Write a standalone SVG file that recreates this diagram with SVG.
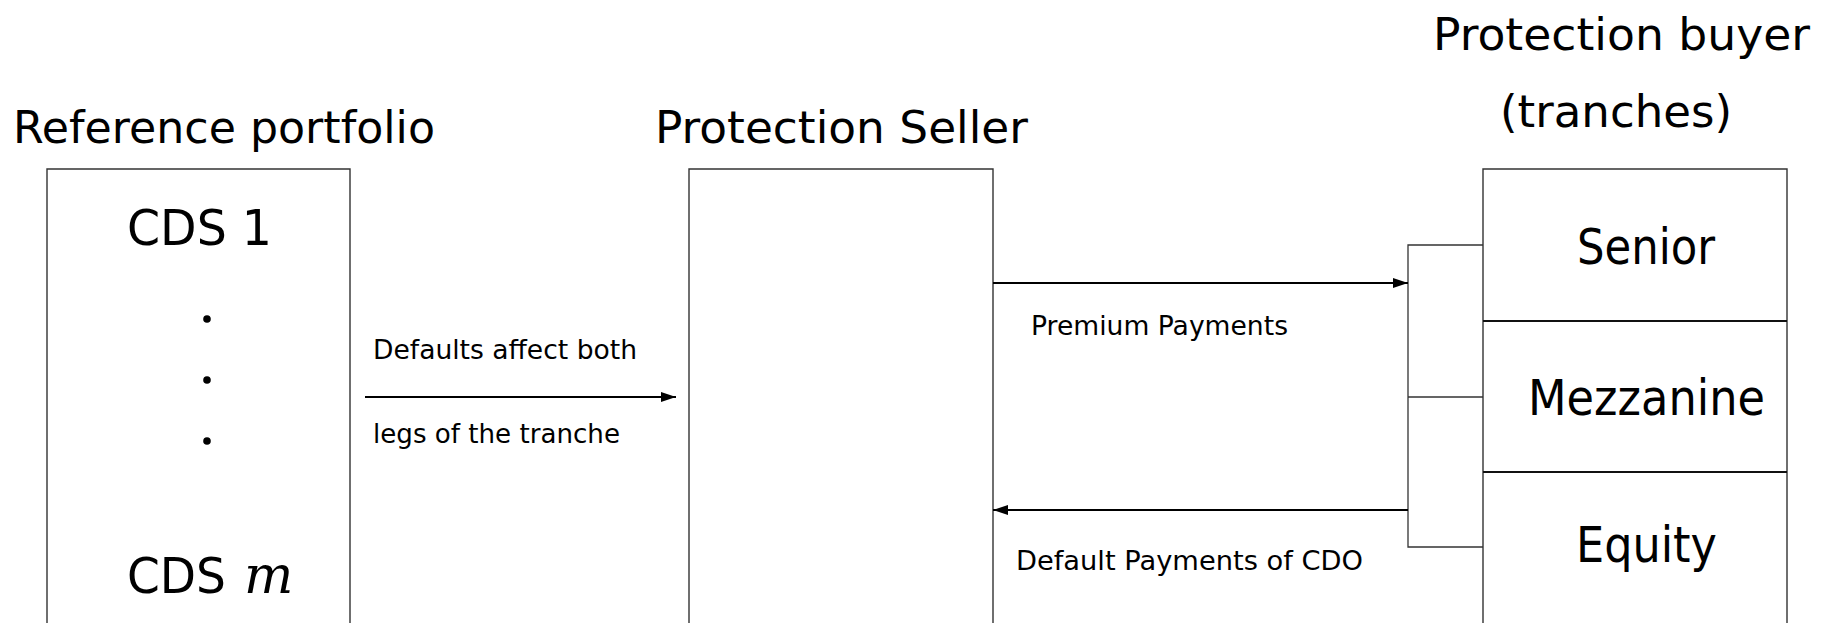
<svg xmlns="http://www.w3.org/2000/svg" width="1836" height="623" viewBox="0 0 1836 623">
  <style>
    .title { font-family: "DejaVu Sans", "Liberation Sans", sans-serif; font-size: 44px; fill: #000; }
    .big { font-family: "DejaVu Sans", "Liberation Sans", sans-serif; font-size: 49px; fill: #000; }
    .small { font-family: "DejaVu Sans", "Liberation Sans", sans-serif; font-size: 26px; fill: #000; }
    .math { font-family: "DejaVu Serif", "Liberation Serif", serif; font-style: italic; }
    .box { fill: none; stroke: #333; stroke-width: 1.4; }
    .divider { stroke: #111; stroke-width: 2.2; }
    .bracket { fill: none; stroke: #333; stroke-width: 1.3; }
    .flow { stroke: #000; stroke-width: 2; fill: none; marker-end: url(#tip); }
  </style>
  <defs>
    <marker id="tip" viewBox="0 0 15 11" refX="15" refY="5.5" markerWidth="15" markerHeight="11" markerUnits="userSpaceOnUse" orient="auto">
      <path d="M0,0.5 L15,5.5 L0,10.5 Z" fill="#000"/>
    </marker>
  </defs>
  <rect width="1836" height="623" fill="#fff"/>

  <!-- reference portfolio -->
  <g id="portfolio">
    <text class="title" x="13" y="143" textLength="422" lengthAdjust="spacingAndGlyphs">Reference portfolio</text>
    <path class="box" d="M47,630 V169 H350 V630"/>
    <text class="big" x="127" y="245" textLength="145" lengthAdjust="spacingAndGlyphs">CDS 1</text>
    <circle cx="207" cy="319" r="3.8" fill="#000"/>
    <circle cx="207" cy="380" r="3.8" fill="#000"/>
    <circle cx="207" cy="441" r="3.8" fill="#000"/>
    <text class="big" x="127" y="593"><tspan textLength="99" lengthAdjust="spacingAndGlyphs">CDS</tspan><tspan class="math" x="244" font-size="52">m</tspan></text>
  </g>

  <!-- protection seller -->
  <g id="seller">
    <text class="title" x="655" y="143" textLength="373" lengthAdjust="spacingAndGlyphs">Protection Seller</text>
    <path class="box" d="M689,630 V169 H993 V630"/>
  </g>

  <!-- protection buyer with tranches -->
  <g id="buyer">
    <text class="title" x="1433" y="50" textLength="377" lengthAdjust="spacingAndGlyphs">Protection buyer</text>
    <text class="title" x="1500" y="127" textLength="232" lengthAdjust="spacingAndGlyphs">(tranches)</text>
    <path class="box" d="M1483,630 V169 H1787 V630"/>
    <line class="divider" x1="1483" y1="321" x2="1787" y2="321"/>
    <line class="divider" x1="1483" y1="472" x2="1787" y2="472"/>
  </g>
  <g id="senior">
    <text class="big" x="1577" y="264" textLength="138" lengthAdjust="spacingAndGlyphs">Senior</text>
  </g>
  <g id="mezzanine">
    <text class="big" x="1528" y="415" textLength="237" lengthAdjust="spacingAndGlyphs">Mezzanine</text>
  </g>
  <g id="equity">
    <text class="big" x="1576" y="562" textLength="141" lengthAdjust="spacingAndGlyphs">Equity</text>
  </g>

  <!-- connectors -->
  <g id="connectors">
    <path class="bracket" d="M1483,245 H1408 V547 H1483 M1408,397 H1483"/>
    <line class="flow" x1="365" y1="397" x2="676" y2="397"/>
    <line class="flow" x1="993" y1="283" x2="1408" y2="283"/>
    <line class="flow" x1="1408" y1="510" x2="993" y2="510"/>
    <text class="small" x="373" y="359" textLength="264" lengthAdjust="spacingAndGlyphs">Defaults affect both</text>
    <text class="small" x="373" y="443" textLength="247" lengthAdjust="spacingAndGlyphs">legs of the tranche</text>
    <text class="small" x="1031" y="335" textLength="257" lengthAdjust="spacingAndGlyphs">Premium Payments</text>
    <text class="small" x="1016" y="570" textLength="347" lengthAdjust="spacingAndGlyphs">Default Payments of CDO</text>
  </g>
</svg>
